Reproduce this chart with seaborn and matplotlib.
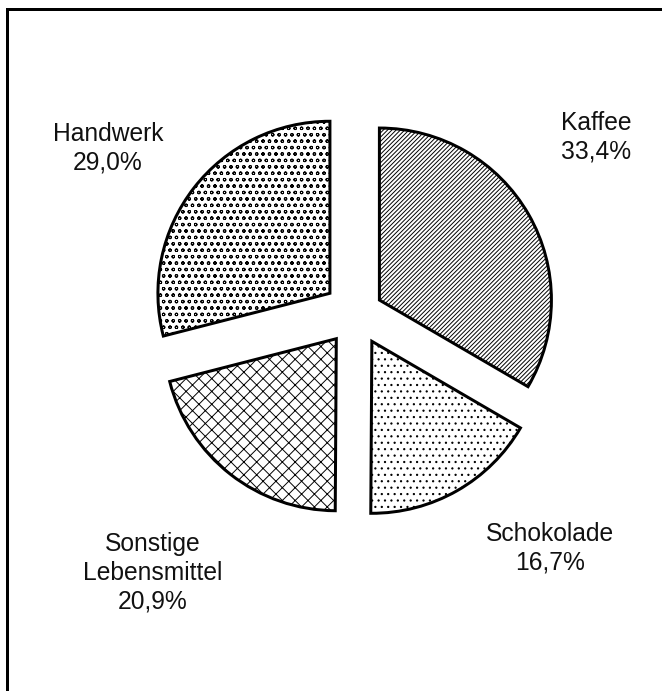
import matplotlib
matplotlib.use("Agg")
import matplotlib.pyplot as plt
import matplotlib.patches as mpatches
import seaborn as sns

# ---- data ----
categories = ["Kaffee", "Schokolade", "Sonstige\nLebensmittel", "Handwerk"]
shares = [33.4, 16.7, 20.9, 29.0]
hatches = ["//////", "..", "xx", "oo"]
explode_px = [27, 32, 32, 33]

sns.set_theme(style="white")
plt.rcParams["font.family"] = ["Liberation Sans", "DejaVu Sans"]
plt.rcParams["hatch.linewidth"] = 0.9
plt.rcParams["hatch.color"] = "black"

DPI = 77
W, H = 662, 691
fig = plt.figure(figsize=(W / DPI, H / DPI), dpi=DPI)
ax = fig.add_axes([0, 0, 1, 1])

R = 172
center = (356, H - 313.5)
lw = 3 * 72 / DPI

wedges, _ = ax.pie(
    shares,
    explode=explode_px,
    radius=R,
    center=center,
    startangle=90,
    counterclock=False,
    colors=["white"] * len(shares),
    wedgeprops=dict(edgecolor="black", linewidth=lw),
)
for w, h in zip(wedges, hatches):
    w.set_hatch(h)

ax.set_xlim(0, W)
ax.set_ylim(0, H)
ax.set_aspect("equal")
ax.axis("off")

# labels
label_pos = [(596, 137), (550, 548), (153, 573), (108, 148)]
for cat, v, (px, py) in zip(categories, shares, label_pos):
    txt = f"{cat}\n{v:.1f}%".replace(".", ",")
    ax.text(px, H - py, txt, ha="center", va="center", multialignment="center",
            fontsize=23, color="#111111", linespacing=1.25)

# outer frame (extends beyond right/bottom edge)
frame = mpatches.Rectangle((7, -60), 1000, (H - 9) + 60, fill=False,
                           edgecolor="black", linewidth=lw, clip_on=False)
ax.add_patch(frame)

fig.savefig("out.png", dpi=DPI, facecolor="white")
